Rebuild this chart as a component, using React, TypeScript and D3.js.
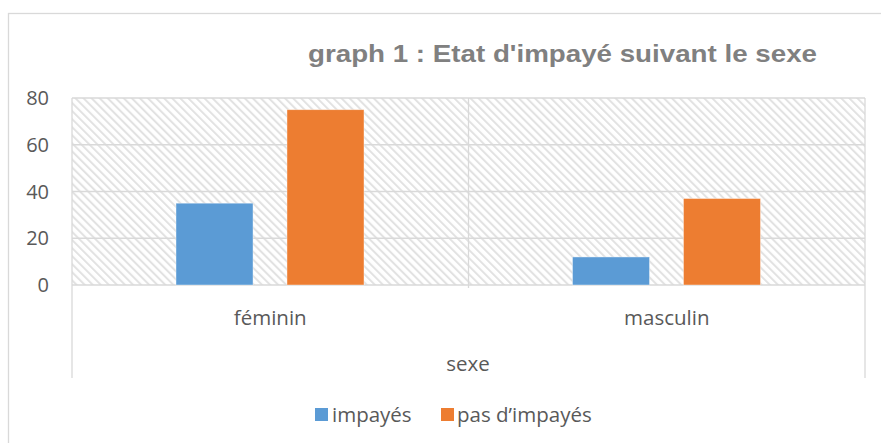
import React from "react";
import * as d3 from "d3";

const categories = ["féminin", "masculin"];
const series = ["impayés", "pas d’impayés"];
const impayes = [35, 12];
const pasImpayes = [75, 37];
const yTicks = [0, 20, 40, 60, 80];

const colors = ["#5b9bd5", "#ed7d31"];
const textFont = "'Open Sans', Lato, sans-serif";

const App = () => {
  const width = 881;
  const height = 443;
  const left = 72, right = 865, top = 98, bottom = 285;

  const x0 = d3.scaleBand().domain(categories).range([left, right]).padding(0);
  const x1 = d3
    .scaleBand()
    .domain(series)
    .range([104, 292])
    .paddingInner(0.306)
    .paddingOuter(0);
  const y = d3.scaleLinear().domain([0, 80]).range([bottom, top]);

  const values = [impayes, pasImpayes];

  return (
    <svg
      width={width}
      height={height}
      style={{ position: "absolute", left: 0, top: 0, background: "#fff" }}
    >
      <defs>
        <pattern
          id="hatch"
          patternUnits="userSpaceOnUse"
          width="5.7"
          height="5.7"
          patternTransform="rotate(-45)"
        >
          <rect width="5.7" height="5.7" fill="#ffffff" />
          <rect x="0" y="0" width="2" height="5.7" fill="#e2e2e2" />
        </pattern>
      </defs>

      {/* outer chart border */}
      <rect x={8.5} y={13.5} width={900} height={460} fill="none" stroke="#d9d9d9" strokeWidth={1.3} />

      <text
        x={308}
        y={62}
        fontFamily="'Liberation Sans', Arial, sans-serif"
        fontWeight="bold"
        fontSize={24}
        textLength={509}
        lengthAdjust="spacingAndGlyphs"
        fill="#808080"
      >
        graph 1 : Etat d'impayé suivant le sexe
      </text>

      {/* plot background */}
      <rect x={left} y={top} width={right - left} height={bottom - top} fill="url(#hatch)" />

      {/* gridlines */}
      {yTicks.map(t => (
        <line key={t} x1={left} x2={right} y1={y(t)} y2={y(t)} stroke="#d9d9d9" strokeWidth={1.3} />
      ))}
      <line x1={left} x2={left} y1={top} y2={378} stroke="#d9d9d9" strokeWidth={1.3} />
      <line x1={right} x2={right} y1={top} y2={378} stroke="#d9d9d9" strokeWidth={1.3} />
      <line
        x1={x0("masculin")}
        x2={x0("masculin")}
        y1={top}
        y2={bottom + 3}
        stroke="#d9d9d9"
        strokeWidth={1.3}
      />

      {/* y tick labels */}
      {yTicks.map(t => (
        <text
          key={t}
          x={49}
          y={y(t)}
          dy="0.36em"
          textAnchor="end"
          fontFamily={textFont}
          fontSize={20}
          fill="#595959"
        >
          {t}
        </text>
      ))}

      {/* bars */}
      {categories.map((c, ci) => (
        <g key={c} transform={`translate(${x0(c)},0)`}>
          {series.map((s, si) => (
            <rect
              key={s}
              x={x1(s)}
              y={y(values[si][ci])}
              width={x1.bandwidth()}
              height={bottom - y(values[si][ci])}
              fill={colors[si]}
              stroke="#ffffff"
              strokeOpacity={0.5}
              strokeWidth={0.8}
            />
          ))}
        </g>
      ))}

      {/* category labels */}
      {categories.map(c => (
        <text
          key={c}
          x={(x0(c) as number) + x0.bandwidth() / 2}
          y={325}
          textAnchor="middle"
          fontFamily={textFont}
          fontSize={20.5}
          fill="#595959"
        >
          {c}
        </text>
      ))}

      <text
        x={468}
        y={371}
        textAnchor="middle"
        fontFamily={textFont}
        fontSize={20.5}
        fill="#595959"
      >
        sexe
      </text>

      {/* legend */}
      <g>
        <rect x={315} y={408} width={13} height={13} fill={colors[0]} />
        <text x={332} y={422} fontFamily={textFont} fontSize={20.5} fill="#595959">
          {series[0]}
        </text>
        <rect x={441} y={408} width={13} height={13} fill={colors[1]} />
        <text x={457} y={422} fontFamily={textFont} fontSize={20.5} fill="#595959">
          {series[1]}
        </text>
      </g>
    </svg>
  );
};

export default App;
